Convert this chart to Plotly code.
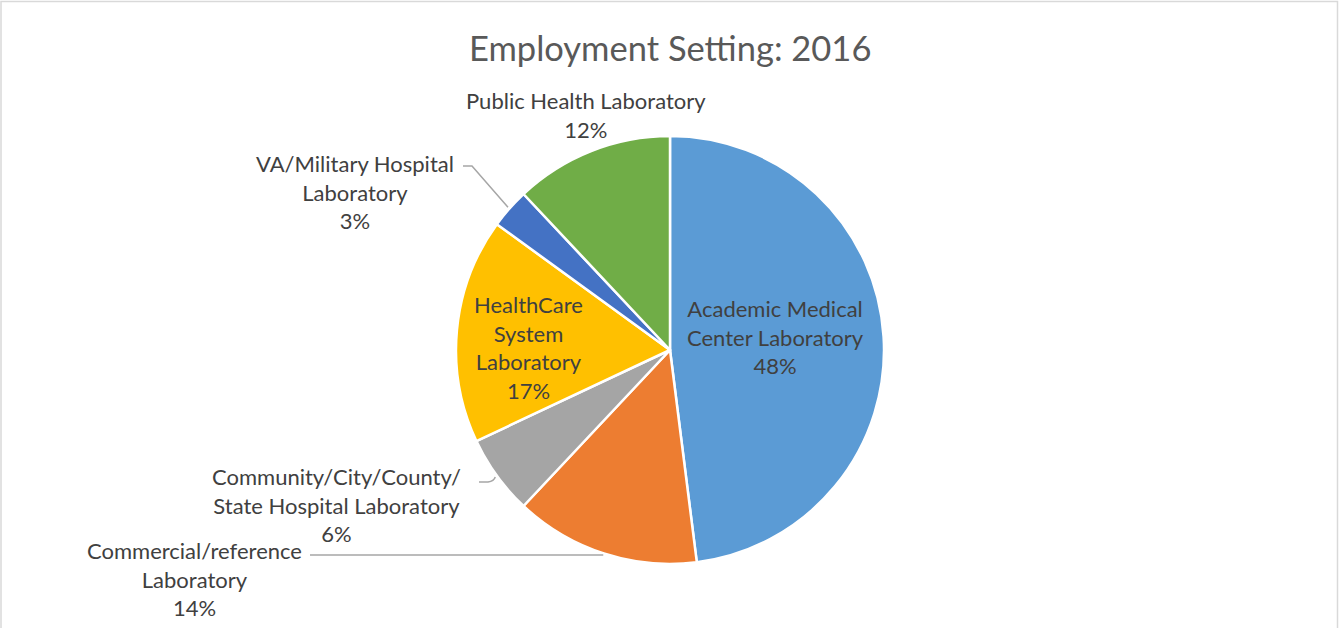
import math
import plotly.graph_objects as go

# ---- data ----
categories = [
    "Academic Medical Center Laboratory",
    "Commercial/reference Laboratory",
    "Community/City/County/ State Hospital Laboratory",
    "HealthCare System Laboratory",
    "VA/Military Hospital Laboratory",
    "Public Health Laboratory",
]
values = [48, 14, 6, 17, 3, 12]
colors = ["#5B9BD5", "#ED7D31", "#A5A5A5", "#FFC000", "#4472C4", "#70AD47"]
label_lines = [
    ["Academic Medical", "Center Laboratory"],
    ["Commercial/reference", "Laboratory"],
    ["Community/City/County/", "State Hospital Laboratory"],
    ["HealthCare", "System", "Laboratory"],
    ["VA/Military Hospital", "Laboratory"],
    ["Public Health Laboratory"],
]
title_text = "Employment Setting: 2016"

# ---- layout constants (pixels) ----
W, H = 1339, 628
CX, CY, R = 670, 350, 214
FONT = "Lato, 'Open Sans', sans-serif"
TXT = "#404040"


def px(x):
    return x / W


def py(y):
    return 1 - y / H


fig = go.Figure(
    go.Pie(
        labels=categories,
        values=values,
        sort=False,
        direction="clockwise",
        rotation=0,
        textinfo="none",
        hoverinfo="label+percent",
        showlegend=False,
        marker=dict(colors=colors, line=dict(color="white", width=2.5)),
        domain=dict(x=[px(CX - R), px(CX + R)], y=[py(CY + R), py(CY - R)]),
    )
)

total = sum(values)
pcts = [round(100 * v / total) for v in values]

# label block centres (pixels)
label_pos = [
    (775, 337),   # Academic (inside)
    (194, 579),   # Commercial
    (336, 505),   # Community
    (528, 347),   # HealthCare (inside)
    (355, 192),   # VA
    (586, 115),   # Public Health
]

annotations = []
for lines, p, (lx, ly) in zip(label_lines, pcts, label_pos):
    text = "<br>".join(lines + [f"{p}%"])
    annotations.append(dict(
        x=px(lx), y=py(ly), xref="paper", yref="paper",
        xanchor="center", yanchor="middle", align="center",
        text=text, showarrow=False,
        font=dict(family=FONT, size=22, color=TXT),
    ))

annotations.append(dict(
    x=px(670), y=py(47), xref="paper", yref="paper",
    xanchor="center", yanchor="middle", text=title_text, showarrow=False,
    font=dict(family=FONT, size=34.5, color="#595959"),
))

# slice mid-point on the rim, from the data
cum = 0
mids = []
for v in values:
    a = 2 * math.pi * (cum + v / 2) / total
    mids.append((CX + (R + 2) * math.sin(a), CY - (R + 2) * math.cos(a)))
    cum += v

LC = "#A6A6A6"
shapes = []
# Commercial leader
ex, ey = mids[1]
shapes.append(dict(type="path", xref="paper", yref="paper",
                   path=f"M {px(310)},{py(555)} L {px(ex)},{py(555)}",
                   line=dict(color=LC, width=1.5)))
# Community leader
ex, ey = mids[2]
shapes.append(dict(type="path", xref="paper", yref="paper",
                   path=f"M {px(479)},{py(482)} L {px(488)},{py(482)} Q {px(494)},{py(481)} {px(ex)},{py(ey)}",
                   line=dict(color=LC, width=1.5)))
# VA leader
ex, ey = mids[4]
shapes.append(dict(type="path", xref="paper", yref="paper",
                   path=f"M {px(463)},{py(166)} L {px(472)},{py(166)} L {px(ex)},{py(ey)}",
                   line=dict(color=LC, width=1.5)))
# chart border
shapes.append(dict(type="rect", xref="paper", yref="paper",
                   x0=px(1), x1=px(1337.5), y0=-0.05, y1=py(1.5),
                   line=dict(color="#D9D9D9", width=1.5)))

fig.update_layout(
    width=W, height=H,
    margin=dict(l=0, r=0, t=0, b=0),
    paper_bgcolor="white",
    annotations=annotations,
    shapes=shapes,
)

fig.write_html("out.html", config={"displayModeBar": False},
               post_script="document.body.style.margin='0';")
